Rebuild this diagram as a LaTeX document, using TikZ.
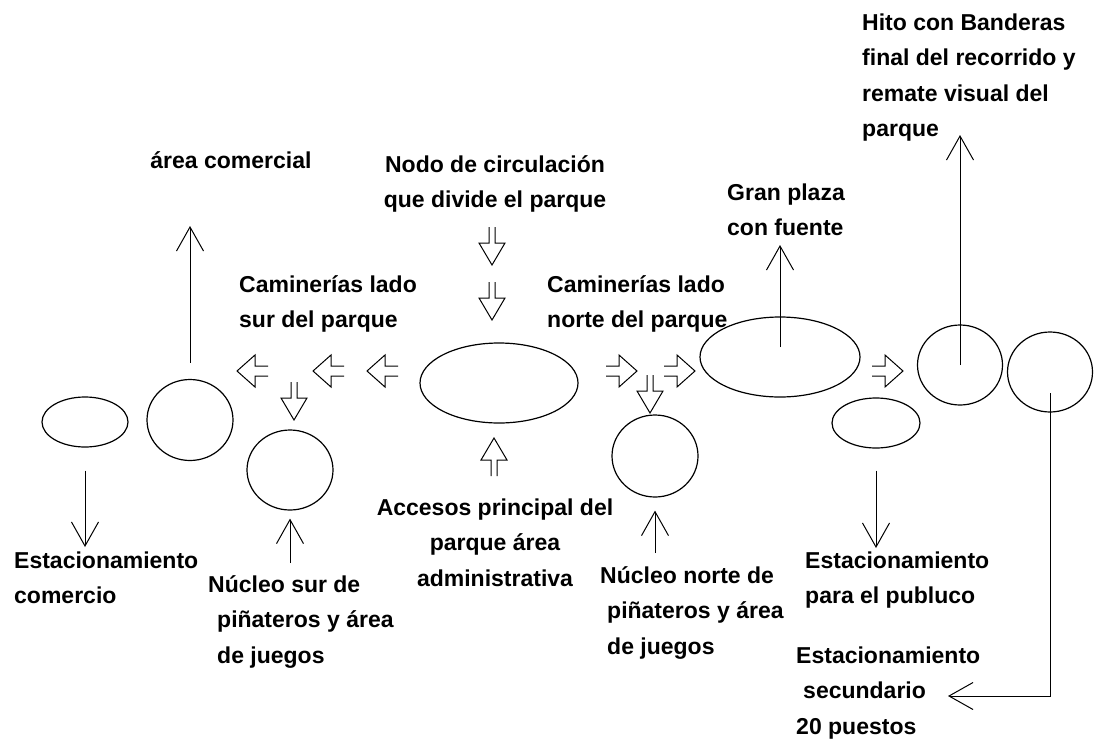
\documentclass[tikz,border=0pt]{standalone}
\usepackage{fontspec}
\setmainfont{Liberation Sans}
\usetikzlibrary{shapes.geometric}
\usetikzlibrary{arrows.meta}

\tikzset{
  sidearrow/.pic={
    \draw[hollow] (-31,-5) -- (-18,-5) -- (-18,-16) -- (0,0)
                  -- (-18,16) -- (-18,5) -- (-31,5);
  },
  downarrow/.pic={
    \draw[hollow] (-3,-38) -- (-3,-22) -- (-13,-22) -- (0,0)
                  -- (13,-22) -- (3,-22) -- (3,-38);
  },
}

\begin{document}
\begin{tikzpicture}[
    x=1pt, y=-1pt,
    >={Straight Barb[length=24pt,width=27pt]},
    zone/.style={ellipse, draw, line width=1.2pt, inner sep=0pt},
    lbl/.style={inner sep=0pt, align=left, anchor=north west,
                font=\bfseries\fontsize{23}{35.5}\selectfont},
    thinarrow/.style={->, line width=1pt},
    hollow/.style={line width=1pt},
  ]

  \useasboundingbox (0,0) rectangle (1094,744);

  % Zones of the park
  \node[zone, minimum width=86pt,  minimum height=50pt] (parkCom)    at (85,422)  {};
  \node[zone, minimum width=86pt,  minimum height=81pt] (comercial)  at (190,420) {};
  \node[zone, minimum width=86pt,  minimum height=80pt] (surCirc)    at (290,470) {};
  \node[zone, minimum width=158pt, minimum height=80pt] (central)    at (499,383) {};
  \node[zone, minimum width=86pt,  minimum height=82pt] (norteCirc)  at (655,456) {};
  \node[zone, minimum width=160pt, minimum height=80pt] (plaza)      at (780,357) {};
  \node[zone, minimum width=88pt,  minimum height=50pt] (parkPub)    at (876,423) {};
  \node[zone, minimum width=85pt,  minimum height=80pt] (hito)       at (960,365) {};
  \node[zone, minimum width=85pt,  minimum height=80pt] (secundario) at (1050,372) {};

  % Labels
  \node[lbl] (hitoLbl) at (862,5)
    {\strut Hito con Banderas\\final del recorrido y\\remate visual del\\parque};
  \node[lbl, anchor=north, align=center] (areaComLbl) at (231,143)
    {\strut área comercial};
  \node[lbl, anchor=north, align=center] (nodoLbl) at (495,147)
    {\strut Nodo de circulación\\que divide el parque};
  \node[lbl] (plazaLbl) at (727,175) {\strut Gran plaza\\con fuente};
  \node[lbl] (caminSurLbl) at (239,267) {\strut Caminerías lado\\sur del parque};
  \node[lbl] (caminNorteLbl) at (547,267) {\strut Caminerías lado\\norte del parque};
  \node[lbl, anchor=north, align=center] (accesosLbl) at (495,490)
    {\strut Accesos principal del\\parque área\\administrativa};
  \node[lbl] (nucleoSurLbl) at (208,567)
    {\strut Núcleo sur de\\\hspace*{9pt}piñateros y área\\\hspace*{9pt}de juegos};
  \node[lbl] (nucleoNorteLbl) at (600,558)
    {\strut Núcleo norte de\\\hspace*{7pt}piñateros y área\\\hspace*{7pt}de juegos};
  \node[lbl] (parkComLbl) at (14,543) {\strut Estacionamiento\\comercio};
  \node[lbl] (parkPubLbl) at (805,543) {\strut Estacionamiento\\para el publuco};
  \node[lbl] (secundarioLbl) at (796,638)
    {\strut Estacionamiento\\\hspace*{7pt}secundario\\20 puestos};

  % Free ends of the thin arrows
  \coordinate (areaComTip) at (190,226);
  \coordinate (parkComTip) at (85,547);
  \coordinate (surFoot)    at (290,563);
  \coordinate (norteFoot)  at (655,553);
  \coordinate (plazaTip)   at (780,245);
  \coordinate (hitoTip)    at (960,135);
  \coordinate (parkPubTip) at (876,548);
  \coordinate (secTip)     at (948,696);

  % Thin arrows
  \draw[thinarrow, shorten <=16pt] (comercial.north) -- (areaComTip);
  \draw[thinarrow, shorten <=23pt] (parkCom.south) -- (parkComTip);
  \draw[thinarrow, shorten >=8pt] (surFoot) -- (surCirc.south);
  \draw[thinarrow, shorten >=13pt] (norteFoot) -- (norteCirc.south);
  \draw[thinarrow, shorten <=10pt] (plaza.center) -- (plazaTip);
  \draw[thinarrow] (hito.center) -- (hitoTip);
  \draw[thinarrow, shorten <=22pt] (parkPub.south) -- (parkPubTip);
  \draw[thinarrow, shorten <=21pt] (secundario.center) |- (secTip);

  % Hollow arrows of the paths
  \pic[rotate=180] at (237,371) {sidearrow};
  \pic[rotate=180] at (313,371) {sidearrow};
  \pic[rotate=180] at (367,371) {sidearrow};
  \pic at (637,371) {sidearrow};
  \pic at (695,371) {sidearrow};
  \pic at (903,371) {sidearrow};
  \pic at (294,420) {downarrow};
  \pic at (492,265) {downarrow};
  \pic at (492,320) {downarrow};
  \pic at (650,413) {downarrow};
  \pic[rotate=180] at (494,438) {downarrow};

\end{tikzpicture}
\end{document}
